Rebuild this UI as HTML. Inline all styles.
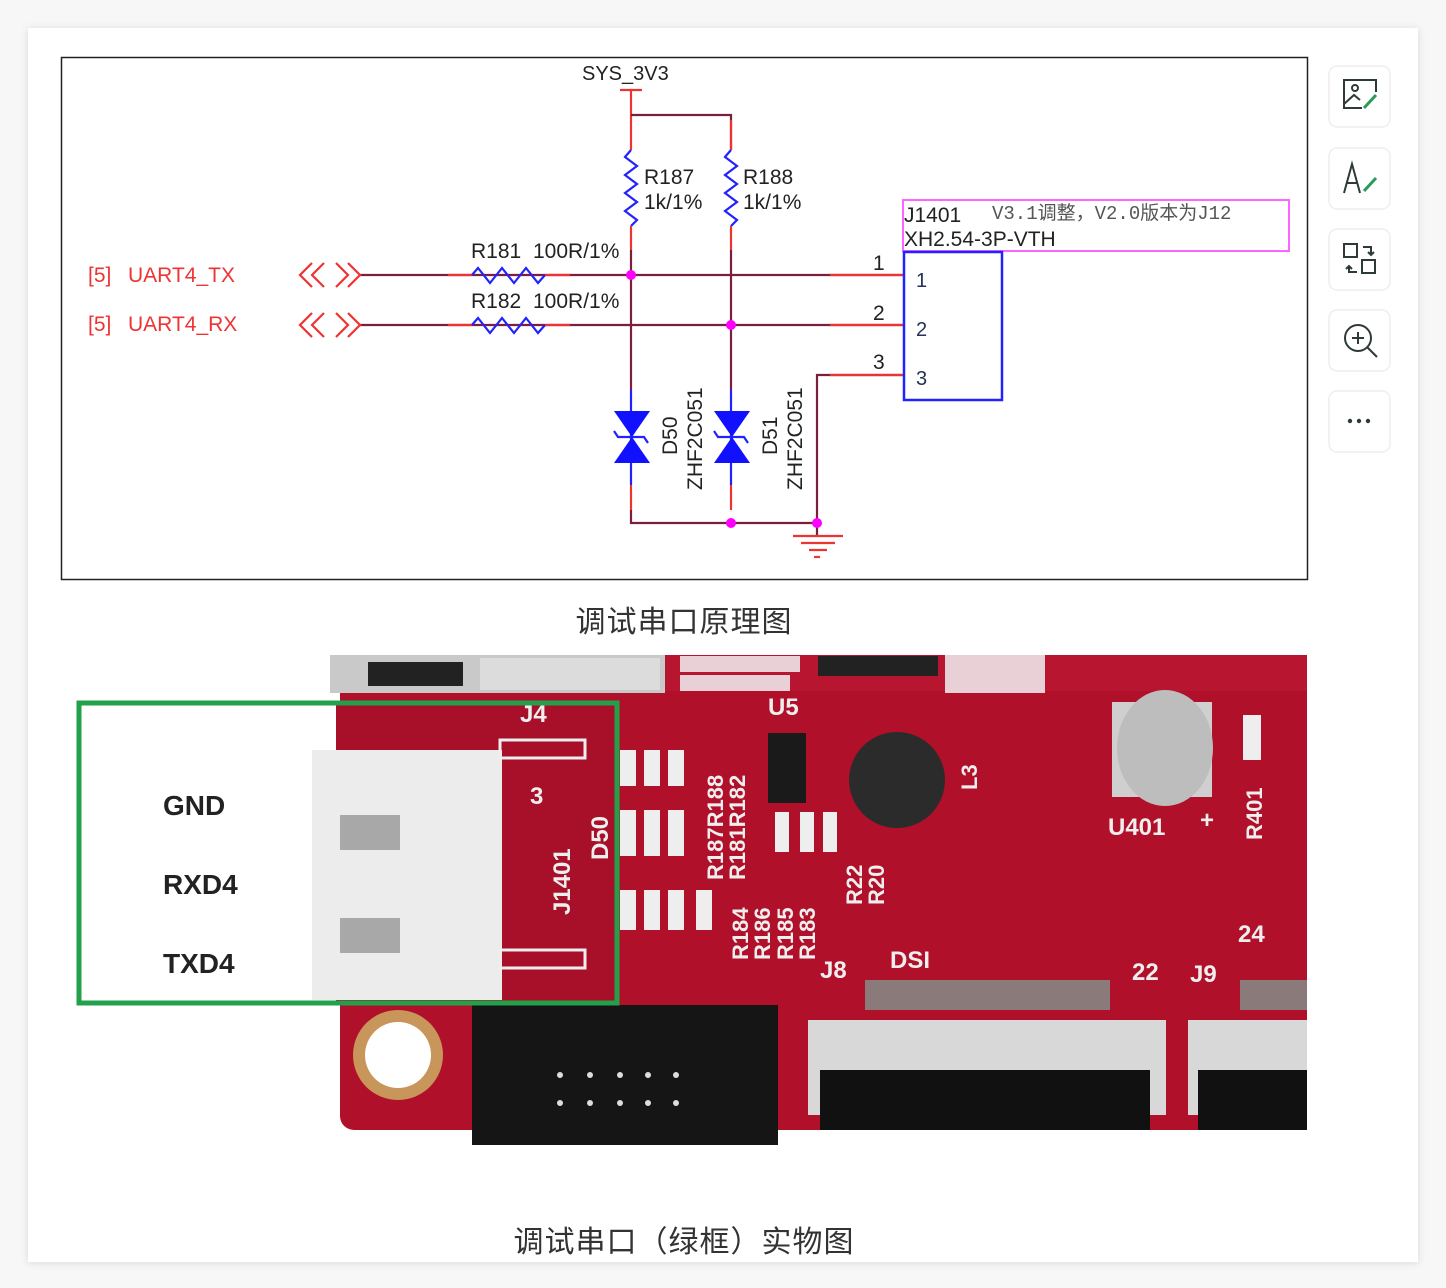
<!DOCTYPE html>
<html><head><meta charset="utf-8"><style>
html,body{margin:0;padding:0;background:#f7f7f7;}
svg{display:block;}
text{font-family:"Liberation Sans","Noto Sans CJK SC",sans-serif;}
</style></head><body>
<svg width="1446" height="1288" viewBox="0 0 1446 1288" xmlns="http://www.w3.org/2000/svg">
<defs><filter id="sh" x="-5%" y="-5%" width="110%" height="110%"><feDropShadow dx="0" dy="1" stdDeviation="4" flood-color="#000" flood-opacity="0.12"/></filter></defs>
<rect x="0" y="0" width="1446" height="1288" fill="#f7f7f7"/>
<rect x="28" y="28" width="1390" height="1234" fill="#fff" filter="url(#sh)"/>
<rect x="61.5" y="57.5" width="1246" height="522" fill="#fff" stroke="#222" stroke-width="1.5"/>
<text x="582" y="80" font-size="20" fill="#222">SYS_3V3</text>
<g stroke-width="2.2" fill="none">
<line x1="620" y1="90" x2="642" y2="90" stroke="#e33"/>
<line x1="631" y1="90" x2="631" y2="150" stroke="#e33"/>
<polyline points="631,115 731,115 731,150" stroke="#7a1f3d"/>
<line x1="731" y1="120" x2="731" y2="150" stroke="#e33"/>
<polyline points="631,150 625,157 637,166 625,175 637,184 625,193 637,202 625,211 637,220 631,226" stroke="#22f"/>
<polyline points="731,150 725,157 737,166 725,175 737,184 725,193 737,202 725,211 737,220 731,226" stroke="#22f"/>
<line x1="631" y1="226" x2="631" y2="250" stroke="#e33"/>
<line x1="731" y1="226" x2="731" y2="250" stroke="#e33"/>
<line x1="631" y1="250" x2="631" y2="390" stroke="#7a1f3d"/>
<line x1="731" y1="250" x2="731" y2="390" stroke="#7a1f3d"/>
<line x1="360" y1="275" x2="905" y2="275" stroke="#7a1f3d"/>
<line x1="360" y1="325" x2="905" y2="325" stroke="#7a1f3d"/>
<line x1="448" y1="275" x2="472" y2="275" stroke="#e33"/><line x1="545" y1="275" x2="570" y2="275" stroke="#e33"/>
<line x1="448" y1="325" x2="472" y2="325" stroke="#e33"/><line x1="545" y1="325" x2="570" y2="325" stroke="#e33"/>
<line x1="830" y1="275" x2="905" y2="275" stroke="#e33"/><line x1="830" y1="325" x2="905" y2="325" stroke="#e33"/>
<polyline points="472,275 478,268 490,283 502,268 514,283 526,268 538,283 545,275" stroke="#22f"/>
<polyline points="472,325 478,318 490,333 502,318 514,333 526,318 538,333 545,325" stroke="#22f"/>
<polyline points="312,263 300,275 312,287" stroke="#e33"/><polyline points="324,263 312,275 324,287" stroke="#e33"/>
<polyline points="336,263 348,275 336,287" stroke="#e33"/><polyline points="348,263 360,275 348,287" stroke="#e33"/>
<polyline points="312,313 300,325 312,337" stroke="#e33"/><polyline points="324,313 312,325 324,337" stroke="#e33"/>
<polyline points="336,313 348,325 336,337" stroke="#e33"/><polyline points="348,313 360,325 348,337" stroke="#e33"/>
<polyline points="905,375 817,375 817,523" stroke="#7a1f3d"/>
<line x1="830" y1="375" x2="905" y2="375" stroke="#e33"/>
<line x1="631" y1="390" x2="631" y2="485" stroke="#22f"/>
<line x1="731" y1="390" x2="731" y2="485" stroke="#22f"/>
<line x1="631" y1="485" x2="631" y2="510" stroke="#e33"/>
<line x1="731" y1="485" x2="731" y2="510" stroke="#e33"/>
<polyline points="631,510 631,523 817,523 817,535" stroke="#7a1f3d"/>
<line x1="793" y1="536" x2="843" y2="536" stroke="#e33"/>
<line x1="801" y1="543" x2="835" y2="543" stroke="#e33"/>
<line x1="809" y1="550" x2="827" y2="550" stroke="#e33"/>
<line x1="814" y1="557" x2="820" y2="557" stroke="#e33"/>
<polyline points="614,431 618,437 644,437 648,443" stroke="#22f"/>
<polyline points="714,431 718,437 744,437 748,443" stroke="#22f"/>
</g>
<polygon points="614,411 650,411 632,437" fill="#11f"/><polygon points="614,463 650,463 632,437" fill="#11f"/>
<polygon points="714,411 750,411 732,437" fill="#11f"/><polygon points="714,463 750,463 732,437" fill="#11f"/>
<g fill="#f0f">
<circle cx="631" cy="275" r="5"/><circle cx="731" cy="325" r="5"/><circle cx="731" cy="523" r="5"/><circle cx="817" cy="523" r="5"/>
</g>
<g font-size="21" fill="#222">
<text x="644" y="184">R187</text><text x="644" y="209">1k/1%</text>
<text x="743" y="184">R188</text><text x="743" y="209">1k/1%</text>
<text x="471" y="258">R181</text><text x="533" y="258">100R/1%</text>
<text x="471" y="308">R182</text><text x="533" y="308">100R/1%</text>
<text transform="translate(677,455) rotate(-90)">D50</text>
<text transform="translate(702,490) rotate(-90)">ZHF2C051</text>
<text transform="translate(777,455) rotate(-90)">D51</text>
<text transform="translate(802,490) rotate(-90)">ZHF2C051</text>
<text x="873" y="270">1</text><text x="873" y="320">2</text><text x="873" y="369">3</text>
</g>
<g font-size="21" fill="#e33"><text x="88" y="282">[5]</text><text x="128" y="282">UART4_TX</text>
<text x="88" y="331">[5]</text><text x="128" y="331">UART4_RX</text></g>
<rect x="903" y="200" width="386" height="51" fill="none" stroke="#f6f" stroke-width="2"/>
<rect x="904" y="252" width="98" height="148" fill="none" stroke="#22f" stroke-width="2.5"/>
<text x="904" y="222" font-size="21" fill="#222">J1401</text>
<text x="992" y="219" font-size="19" fill="#555" style="font-family:'Liberation Mono','Noto Sans CJK SC',monospace">V3.1调整，V2.0版本为J12</text>
<text x="904" y="246" font-size="21" fill="#222">XH2.54-3P-VTH</text>
<g font-size="20" fill="#235"><text x="916" y="287">1</text><text x="916" y="336">2</text><text x="916" y="385">3</text></g>
<text x="684" y="632" font-size="30" letter-spacing="1" fill="#333" text-anchor="middle" style="font-family:'Noto Sans CJK SC',sans-serif">调试串口原理图</text>
<!-- photo -->
<rect x="340" y="655" width="967" height="475" rx="14" fill="#b0102a"/>
<rect x="335" y="655" width="972" height="36" fill="#b81530"/>
<rect x="330" y="655" width="335" height="38" fill="#c9c9c9"/>
<rect x="368" y="662" width="95" height="24" fill="#222"/>
<rect x="480" y="658" width="180" height="32" fill="#dcdcdc"/>
<g fill="#e8d0d6">
<rect x="680" y="656" width="120" height="16"/><rect x="680" y="675" width="110" height="16"/>
<rect x="945" y="655" width="100" height="38"/>
</g>
<g fill="#222"><rect x="818" y="656" width="120" height="20"/></g>
<circle cx="897" cy="780" r="48" fill="#2b2b2b"/>
<rect x="768" y="733" width="38" height="70" fill="#1a1a1a"/>
<rect x="1112" y="702" width="100" height="95" fill="#cfcfcf"/>
<ellipse cx="1165" cy="748" rx="48" ry="58" fill="#bdbdbd"/>
<g fill="#eee" font-size="24" font-weight="bold"><text x="1108" y="835">U401</text><text x="1200" y="828">+</text><text x="768" y="715">U5</text><text x="890" y="968">DSI</text><text x="1132" y="980">22</text><text x="1190" y="982">J9</text><text x="820" y="978">J8</text><text x="1238" y="942">24</text></g>
<g fill="#eee"><rect x="620" y="750" width="16" height="36"/><rect x="644" y="750" width="16" height="36"/><rect x="668" y="750" width="16" height="36"/>
<rect x="620" y="810" width="16" height="46"/><rect x="644" y="810" width="16" height="46"/><rect x="668" y="810" width="16" height="46"/>
<rect x="620" y="890" width="16" height="40"/><rect x="644" y="890" width="16" height="40"/><rect x="668" y="890" width="16" height="40"/><rect x="696" y="890" width="16" height="40"/>
<rect x="775" y="812" width="14" height="40"/><rect x="800" y="812" width="14" height="40"/><rect x="823" y="812" width="14" height="40"/>
<rect x="1243" y="715" width="18" height="45"/></g>
<g fill="#eee" font-size="22" font-weight="bold">
<text transform="translate(723,880) rotate(-90)">R187R188</text>
<text transform="translate(745,880) rotate(-90)">R181R182</text>
<text transform="translate(748,960) rotate(-90)">R184</text><text transform="translate(770,960) rotate(-90)">R186</text>
<text transform="translate(793,960) rotate(-90)">R185</text><text transform="translate(815,960) rotate(-90)">R183</text>
<text transform="translate(862,905) rotate(-90)">R22</text><text transform="translate(884,905) rotate(-90)">R20</text>
<text transform="translate(1262,840) rotate(-90)">R401</text>
<text transform="translate(977,790) rotate(-90)">L3</text>
</g>
<circle cx="398" cy="1055" r="45" fill="#c8955a"/><circle cx="398" cy="1055" r="33" fill="#fff"/>
<rect x="472" y="1005" width="306" height="140" fill="#151515"/>
<g fill="#ddd"><circle cx="560" cy="1075" r="3"/><circle cx="590" cy="1075" r="3"/><circle cx="620" cy="1075" r="3"/><circle cx="648" cy="1075" r="3"/><circle cx="676" cy="1075" r="3"/>
<circle cx="560" cy="1103" r="3"/><circle cx="590" cy="1103" r="3"/><circle cx="620" cy="1103" r="3"/><circle cx="648" cy="1103" r="3"/><circle cx="676" cy="1103" r="3"/></g>
<rect x="865" y="980" width="245" height="30" fill="#8a7a7a"/>
<rect x="808" y="1020" width="358" height="95" fill="#d8d8d8"/>
<rect x="820" y="1070" width="330" height="60" fill="#111"/>
<rect x="1240" y="980" width="67" height="30" fill="#8a7a7a"/>
<rect x="1188" y="1020" width="119" height="95" fill="#d8d8d8"/>
<rect x="1198" y="1070" width="109" height="60" fill="#111"/>
<rect x="79" y="703" width="257" height="300" fill="#fff"/>
<rect x="336" y="703" width="281" height="300" fill="#a8102a"/>
<rect x="312" y="750" width="190" height="250" fill="#ececec"/>
<rect x="340" y="815" width="60" height="35" fill="#a8a8a8"/>
<rect x="340" y="918" width="60" height="35" fill="#a8a8a8"/>
<rect x="500" y="740" width="85" height="18" fill="none" stroke="#eee" stroke-width="3"/>
<rect x="500" y="950" width="85" height="18" fill="none" stroke="#eee" stroke-width="3"/>
<g fill="#eee" font-size="24" font-weight="bold"><text transform="translate(570,915) rotate(-90)">J1401</text><text transform="translate(608,860) rotate(-90)">D50</text><text x="530" y="804">3</text><text x="520" y="722">J4</text></g>
<rect x="79" y="703" width="538" height="300" fill="none" stroke="#22a04a" stroke-width="5"/>
<g font-size="28" fill="#222" font-weight="bold"><text x="163" y="815">GND</text><text x="163" y="894">RXD4</text><text x="163" y="973">TXD4</text></g>
<text x="684" y="1252" font-size="30" letter-spacing="1" fill="#333" text-anchor="middle" style="font-family:'Noto Sans CJK SC',sans-serif">调试串口（绿框）实物图</text>
<g fill="#fff" stroke="#eee" stroke-width="1.5">
<rect x="1329" y="66" width="61" height="61" rx="8"/><rect x="1329" y="148" width="61" height="61" rx="8"/>
<rect x="1329" y="229" width="61" height="61" rx="8"/><rect x="1329" y="310" width="61" height="61" rx="8"/><rect x="1329" y="391" width="61" height="61" rx="8"/>
</g>
<g fill="none" stroke="#2d3b36" stroke-width="2">
<polyline points="1362,108 1344,108 1344,80 1376,80 1376,92"/><circle cx="1355" cy="88" r="3"/><polyline points="1344,104 1354,95 1360,100"/>
<polyline points="1344,193 1352,164 1360,193"/><line x1="1347" y1="183" x2="1357" y2="183"/>
<rect x="1344" y="244" width="13" height="13"/><rect x="1362" y="260" width="13" height="13"/>
<path d="M1363,247 h8 v8 M1368,252 l3,3 l3,-3"/><path d="M1357,272 h-8 v-6 M1346,269 l3,-3 l3,3"/>
<circle cx="1358" cy="338" r="13"/><line x1="1367" y1="347" x2="1377" y2="357"/><line x1="1358" y1="332" x2="1358" y2="344"/><line x1="1352" y1="338" x2="1364" y2="338"/>
</g>
<g fill="none" stroke="#2b9a5a" stroke-width="3"><line x1="1364" y1="108" x2="1376" y2="95"/><line x1="1364" y1="191" x2="1376" y2="178"/></g>
<g fill="#2d3b36"><circle cx="1350" cy="421" r="2.2"/><circle cx="1359" cy="421" r="2.2"/><circle cx="1368" cy="421" r="2.2"/></g>
</svg>
</body></html>
